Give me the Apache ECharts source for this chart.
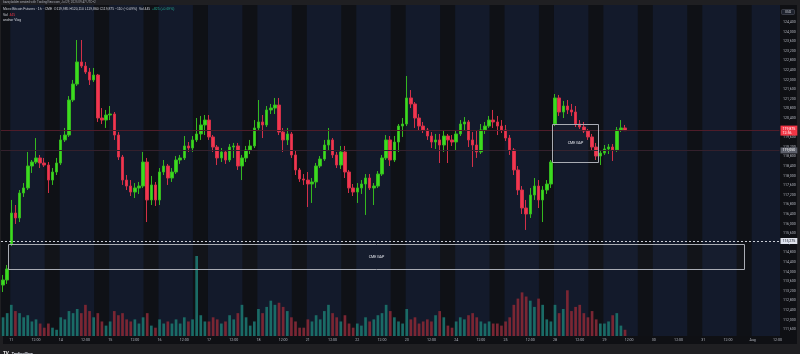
<!DOCTYPE html>
<html>
<head>
<meta charset="utf-8">
<title>Micro Bitcoin Futures</title>
<script src="https://cdn.jsdelivr.net/npm/echarts@6/dist/echarts.min.js"></script>
<style>
  html, body { margin: 0; padding: 0; background: #1f1f22; }
  #chart { width: 800px; height: 354px; }
</style>
</head>
<body>
<div id="chart"></div>
<script>
// trading days on the time axis (weekends skipped), 2 hour candles
var dayNames = ['10', '11', '14', '15', '16', '17', '18', '21', '22', '23', '24', '25', '28', '29', '30', '31', 'Aug'];
var firstDayHours = [20, 22];   // the last two slots of Jul 10
var slotCount = 189;            // candles + empty space on the right

// one value per candle, Jul 10 20:00 -> Jul 29 10:00
var opens = [113440, 113650,
  115150, 116440, 116235, 117275, 117485, 118400, 118565, 118735, 118525, 118440, 117815, 118150,
  118525, 119485, 119690, 121150, 121815, 122735, 122565, 122315, 121985, 122190, 120400, 120315,
  120525, 120565, 119690, 118775, 117815, 117565, 117315, 117485, 117565, 118565, 116985, 117610,
  116985, 118150, 118400, 117900, 118150, 118650, 118735, 119235, 119150, 119485, 119735, 120110,
  120315, 119610, 119190, 118735, 118985, 118650, 119190, 119235, 118400, 118735, 119065, 119235,
  119985, 120235, 120110, 120735, 120815, 120940, 119815, 119485, 119735, 118860, 118235, 117860,
  117815, 117650, 117735, 118400, 118690, 119275, 119485, 118860, 118440, 118985, 118150, 117485,
  117315, 117485, 117650, 117900, 117485, 117565, 118065, 118735, 119485, 118650, 119400, 120065,
  120150, 121235, 120985, 120400, 120065, 119900, 119650, 119400, 119485, 119275, 119650, 119485,
  119400, 119735, 120150, 120235, 119485, 119275, 118985, 119900, 120065, 120315, 120235, 120065,
  119900, 119565, 119065, 118235, 117400, 116650, 116400, 117190, 117565, 116985, 117400, 117650,
  120150, 121235, 120650, 120900, 120735, 120650, 120150, 120025, 119860, 119610, 119190, 118815,
  118940, 119110, 119190, 119065, 119900, 119985];
var highs = [113860, 114275,
  116985, 116775, 117400, 117690, 118985, 118650, 119565, 118860, 118735, 118565, 118315, 118735,
  119690, 119985, 121315, 121985, 123650, 123650, 122735, 122485, 122485, 122235, 120815, 120735,
  120900, 120650, 119815, 118860, 118025, 117815, 117690, 117735, 118985, 118735, 117985, 117735,
  118315, 118650, 118485, 118315, 118815, 118860, 119650, 119400, 119650, 120400, 120485, 120525,
  120525, 119690, 119275, 119150, 119065, 119315, 119360, 119360, 118860, 119235, 119485, 120315,
  121150, 120525, 120900, 120985, 121235, 121235, 119985, 119985, 119815, 119065, 118315, 118065,
  118150, 117900, 118525, 118815, 119485, 119985, 119565, 118985, 119235, 119235, 118235, 117650,
  117690, 117815, 118065, 118065, 117690, 118190, 118860, 119690, 119650, 119650, 120150, 120400,
  122150, 121565, 121065, 120565, 120235, 119985, 119815, 119735, 119735, 119900, 119735, 119690,
  119900, 120315, 120440, 120315, 119815, 119900, 120150, 120235, 120485, 120735, 120485, 120315,
  120110, 119690, 119150, 118400, 117565, 116985, 117485, 117900, 117815, 117565, 117815, 118650,
  121400, 121360, 121110, 121150, 120985, 120900, 120315, 120235, 119940, 119735, 119360, 119065,
  119275, 119315, 119315, 120025, 120315, 120110];
var lows = [113150, 113485,
  115065, 115985, 116065, 117110, 117400, 118110, 118485, 118315, 118360, 117275, 117610, 118025,
  118440, 119400, 119610, 121065, 121735, 122485, 122235, 121775, 121900, 120235, 120150, 119985,
  120315, 119485, 118650, 117610, 117400, 117150, 117065, 117235, 117485, 116065, 116775, 116735,
  116775, 118025, 117610, 117735, 118065, 118485, 118650, 118985, 118985, 119400, 119485, 119690,
  119485, 118985, 118440, 118565, 118485, 118565, 118735, 118235, 117815, 118565, 118900, 119150,
  119900, 119565, 120025, 120565, 120565, 119690, 118985, 119275, 118735, 118025, 117735, 117610,
  116690, 116860, 117485, 118315, 118610, 119065, 118735, 118315, 118275, 117900, 117275, 117150,
  116860, 117235, 116360, 117400, 116775, 117485, 117985, 118650, 118400, 118565, 118985, 119610,
  120065, 120815, 119985, 119860, 119775, 119485, 119150, 119110, 118525, 118985, 118525, 119235,
  119065, 119650, 119900, 119190, 118360, 118735, 118900, 119735, 119985, 119985, 119690, 119775,
  119440, 118860, 118025, 117190, 116400, 115735, 116235, 116985, 116650, 116065, 117235, 117485,
  120065, 120485, 120400, 120565, 120485, 120025, 119940, 119775, 119485, 119065, 118650, 118440,
  118860, 118900, 118610, 118985, 119815, 119860];
var closes = [113650, 114110,
  116440, 116235, 117275, 117485, 118400, 118565, 118735, 118525, 118440, 117815, 118150, 118525,
  119485, 119690, 121150, 121815, 122735, 122565, 122315, 121985, 122190, 120400, 120315, 120525,
  120565, 119690, 118775, 117815, 117565, 117315, 117485, 117565, 118565, 116985, 117610, 116985,
  118150, 118400, 117900, 118150, 118650, 118735, 119235, 119150, 119485, 119735, 120110, 120315,
  119610, 119190, 118735, 118985, 118650, 119190, 119235, 118400, 118735, 119065, 119235, 119985,
  120235, 120110, 120735, 120815, 120940, 119815, 119485, 119735, 118860, 118235, 117860, 117815,
  117650, 117735, 118400, 118690, 119275, 119485, 118860, 118440, 118985, 118150, 117485, 117315,
  117485, 117650, 117900, 117485, 117565, 118065, 118735, 119485, 118650, 119400, 120065, 120150,
  121235, 120985, 120400, 120065, 119900, 119650, 119400, 119485, 119275, 119650, 119485, 119400,
  119735, 120150, 120235, 119485, 119275, 118985, 119900, 120065, 120315, 120235, 120065, 119900,
  119565, 119065, 118235, 117400, 116650, 116400, 117190, 117565, 116985, 117400, 117650, 118565,
  121235, 120650, 120900, 120735, 120650, 120150, 120025, 119860, 119610, 119190, 118815, 118940,
  119110, 119190, 119065, 119900, 119985, 119875];
var volumes = [450, 550,
  750, 600, 550, 450, 500, 350, 400, 300, 200, 300, 200, 150,
  450, 400, 600, 550, 650, 550, 750, 600, 450, 550, 350, 250,
  350, 600, 500, 550, 400, 350, 400, 300, 450, 550, 250, 200,
  400, 300, 350, 300, 400, 300, 450, 350, 400, 1925, 500, 350,
  350, 450, 400, 300, 350, 500, 400, 550, 750, 450, 250, 350,
  650, 550, 700, 850, 750, 800, 700, 600, 450, 350, 200, 200,
  400, 350, 500, 400, 600, 750, 550, 450, 350, 500, 300, 200,
  300, 250, 450, 350, 400, 500, 550, 750, 600, 450, 350, 300,
  650, 400, 450, 300, 350, 400, 350, 500, 600, 450, 250, 200,
  350, 450, 400, 500, 550, 450, 350, 300, 350, 300, 300, 250,
  350, 450, 750, 900, 1050, 950, 850, 700, 900, 750, 400, 350,
  750, 550, 650, 1100, 600, 700, 750, 550, 450, 600, 400, 300,
  300, 350, 500, 550, 250, 150];

// price levels drawn across the chart
var lastPrice = 119875;
var prevLevel = 119050;
var gapLevel = 115275;

// CME gaps: slot range (0 = Jul 11 00:00) and price range
var gapStart = [-0.8, 131.3];
var gapEnd = [177.9, 142.4];
var gapTop = [115150, 120150];
var gapBottom = [114110, 118565];

var PLOT_TOP = 5, PLOT_BOTTOM = 336;

function hh(h) { return (h < 10 ? '0' : '') + h + ':00'; }
function fmt(v) { return v.toLocaleString('en-US'); }

var categories = [];
firstDayHours.forEach(function (h) { categories.push(dayNames[0] + ' ' + hh(h)); });
for (var d = 1; categories.length < slotCount; d++) {
  for (var k = 0; k < 12 && categories.length < slotCount; k++) {
    categories.push(dayNames[d] + ' ' + hh(k * 2));
  }
}
var slotOffset = firstDayHours.length;

// darker band before every session start
var breaks = [];
categories.forEach(function (c, i) {
  if (c.split(' ')[1] === '00:00') breaks.push([i - 3.9, i - 0.25]);
});

var candleData = [], volData = [];
for (var i = 0; i < categories.length; i++) {
  if (i < closes.length) {
    candleData.push([opens[i], closes[i], lows[i], highs[i]]);
    volData.push({
      value: volumes[i],
      itemStyle: { color: closes[i] >= opens[i] ? '#1a6b66' : '#7a2633' }
    });
  } else {
    candleData.push('-');
    volData.push('-');
  }
}

function clampX(x, cs) { return Math.max(cs.x, Math.min(cs.x + cs.width, x)); }

function renderBreak(params, api) {
  var b = breaks[params.dataIndex];
  var cs = params.coordSys;
  var c0 = api.coord([0, 120000])[0];
  var w = api.size([1, 0])[0];
  var x1 = clampX(c0 + b[0] * w, cs), x2 = clampX(c0 + b[1] * w, cs);
  return {
    type: 'rect',
    shape: { x: x1, y: PLOT_TOP, width: x2 - x1, height: PLOT_BOTTOM - PLOT_TOP },
    style: { fill: '#0f1116' }
  };
}

function renderGap(params, api) {
  var n = params.dataIndex;
  var w = api.size([1, 0])[0];
  var pTop = api.coord([0, gapTop[n]]);
  var yBot = api.coord([0, gapBottom[n]])[1];
  var x1 = Math.round(pTop[0] + (gapStart[n] + slotOffset) * w) + 0.5;
  var x2 = Math.round(pTop[0] + (gapEnd[n] + slotOffset) * w) + 0.5;
  var y1 = Math.round(pTop[1]) + 0.5, y2 = Math.round(yBot) + 0.5;
  return {
    type: 'group',
    children: [
      {
        type: 'rect',
        shape: { x: x1, y: y1, width: x2 - x1, height: y2 - y1 },
        style: { fill: 'rgba(255,255,255,0.015)', stroke: '#a9acb4', lineWidth: 1 }
      },
      {
        type: 'text',
        style: {
          text: 'CME GAP', x: (x1 + x2) / 2, y: (y1 + y2) / 2,
          fill: '#e6e8ee', fontSize: 3.6, fontFamily: 'Roboto',
          align: 'center', verticalAlign: 'middle'
        }
      }
    ]
  };
}

var chart = echarts.init(document.getElementById('chart'));
var option = {
  animation: false,
  backgroundColor: '#1f1f22',
  textStyle: { fontFamily: 'Roboto' },
  grid: [
    { left: 1, right: 20.5, top: 2.8, bottom: 15.2 },
    { left: 1, right: 20.5, top: 256, bottom: 18 }
  ],
  xAxis: [
    { type: 'category', gridIndex: 0, data: categories, boundaryGap: true, show: false },
    {
      type: 'category', gridIndex: 1, data: categories, boundaryGap: true,
      axisLine: { show: false }, axisTick: { show: false },
      axisLabel: {
        color: '#b2b5be', fontSize: 3.6, margin: 2.5,
        interval: function (index, value) {
          var h = value.split(' ')[1];
          return h === '00:00' || h === '12:00';
        },
        formatter: function (value) {
          var p = value.split(' ');
          return p[1] === '00:00' ? p[0] : '12:00';
        }
      }
    }
  ],
  yAxis: [
    {
      type: 'value', gridIndex: 0, position: 'right',
      min: 111200, max: 125200, interval: 400,
      splitLine: { show: false }, axisLine: { show: false }, axisTick: { show: false },
      axisLabel: {
        color: '#b2b5be', fontSize: 3.6, margin: 3.5, align: 'left',
        formatter: function (v) { return (v > 124400 || v < 111600) ? '' : fmt(v); }
      }
    },
    { type: 'value', gridIndex: 1, min: 0, max: 'dataMax', show: false }
  ],
  graphic: [
    { type: 'rect', z: -1, shape: { x: 3, y: PLOT_TOP, width: 777, height: PLOT_BOTTOM - PLOT_TOP }, style: { fill: '#131a2b' } },
    { type: 'rect', z: -1, shape: { x: 780, y: PLOT_TOP, width: 17, height: 339 }, style: { fill: '#0f1014' } },
    { type: 'rect', z: -1, shape: { x: 3, y: PLOT_BOTTOM, width: 777, height: 8 }, style: { fill: '#0f1014' } },
    {
      type: 'text', z: 10, x: 3, y: 0.6,
      style: { text: 'bazzyladder created with TradingView.com, Jul 29, 2025 09:47 UTC+2', fill: '#a3a6af', fontSize: 3, fontFamily: 'Roboto' }
    },
    {
      type: 'text', z: 10, x: 3, y: 8,
      style: {
        text: '{w|Micro Bitcoin Futures · 1h · CME}  {w|O119,985 H120,110 L119,860 C119,875 −110 (−0.09%)}  {w|Vol 445}  {t|+825 (+0.69%)}',
        fontSize: 3.4, fontFamily: 'Roboto',
        rich: { w: { fill: '#d1d4dc', fontSize: 3.4 }, t: { fill: '#22ab94', fontSize: 3.4 } }
      }
    },
    {
      type: 'text', z: 10, x: 3, y: 13.5,
      style: {
        text: '{g|Vol}  {r|445}', fontSize: 3.4, fontFamily: 'Roboto',
        rich: { g: { fill: '#d1d4dc', fontSize: 3.4 }, r: { fill: '#f23645', fontSize: 3.4 } }
      }
    },
    {
      type: 'text', z: 10, x: 3, y: 18.5,
      style: { text: 'anchor Vlog', fill: '#d1d4dc', fontSize: 3.4, fontFamily: 'Roboto' }
    },
    { type: 'rect', z: 10, shape: { x: 781.5, y: 9.5, width: 13, height: 5, r: 1 }, style: { fill: '#1e222d', stroke: '#50535e', lineWidth: 0.6 } },
    {
      type: 'text', z: 11, x: 788, y: 12,
      style: { text: 'USD', fill: '#d1d4dc', fontSize: 3.2, fontFamily: 'Roboto', align: 'center', verticalAlign: 'middle' }
    },
    {
      type: 'text', z: 10, x: 3, y: 347.5,
      style: {
        text: '{b|TV} {n|TradingView}', fontFamily: 'Roboto',
        rich: { b: { fill: '#ffffff', fontSize: 4.5, fontWeight: 'bold' }, n: { fill: '#e0e3eb', fontSize: 3.6, fontWeight: 'bold' } }
      }
    }
  ],
  series: [
    {
      type: 'custom', name: 'sessions', xAxisIndex: 0, yAxisIndex: 0, z: 1, silent: true,
      renderItem: renderBreak,
      data: breaks.map(function () { return [0, 120000]; })
    },
    {
      type: 'bar', name: 'volume', xAxisIndex: 1, yAxisIndex: 1, z: 2,
      barWidth: '65%', data: volData, silent: true
    },
    {
      type: 'candlestick', name: 'MBT1!', xAxisIndex: 0, yAxisIndex: 0, z: 4,
      barWidth: 3, data: candleData,
      itemStyle: { color: '#3bdc1f', color0: '#f2364f', borderColor: '#35b81f', borderColor0: '#d23048', borderWidth: 1 },
      markLine: {
        silent: true, symbol: ['none', 'none'], animation: false,
        label: { position: 'end', distance: 1, fontSize: 3.6, fontFamily: 'Roboto', padding: [1, 2], lineHeight: 4 },
        data: [
          {
            yAxis: lastPrice,
            lineStyle: { color: '#4f1c29', type: 'solid', width: 1, opacity: 1 },
            label: { formatter: fmt(lastPrice) + '\n12:56', backgroundColor: '#f23645', color: '#ffffff' }
          },
          {
            yAxis: prevLevel,
            lineStyle: { color: '#34202c', type: 'solid', width: 1, opacity: 1 },
            label: { formatter: fmt(prevLevel), backgroundColor: '#5d606b', color: '#ffffff' }
          },
          {
            yAxis: gapLevel,
            lineStyle: { color: '#c9ccd4', type: [2, 2], width: 1, opacity: 1 },
            label: { formatter: fmt(gapLevel), backgroundColor: '#e0e3eb', color: '#131722' }
          }
        ]
      }
    },
    {
      type: 'custom', name: 'gaps', xAxisIndex: 0, yAxisIndex: 0, z: 5, silent: true,
      renderItem: renderGap,
      data: gapTop.map(function (v) { return [0, v]; })
    }
  ]
};
chart.setOption(option);
</script>
</body>
</html>
